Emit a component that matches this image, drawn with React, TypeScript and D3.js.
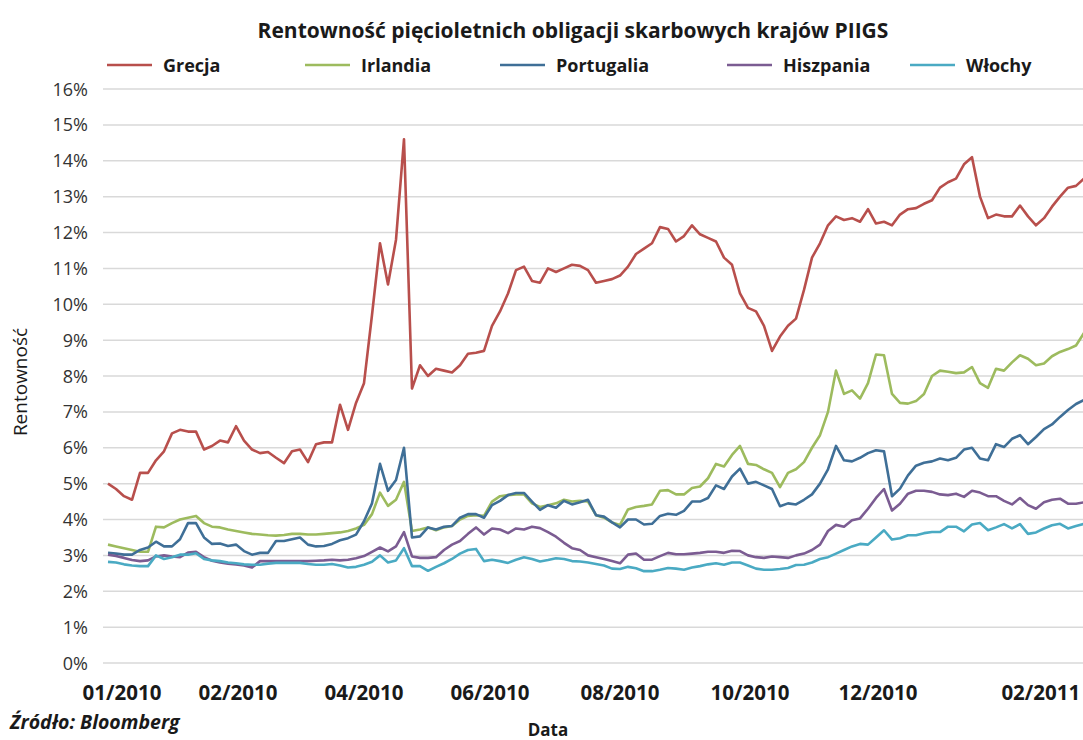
import React from 'react';
import * as d3 from 'd3';

const WIDTH = 1083;
const HEIGHT = 740;

// rentowność w %, mniej więcej co 2 sesje, od 01/2010 do 02/2011
const grecja = [
  5.0, 4.85, 4.65, 4.55, 5.3, 5.3, 5.65, 5.9, 6.4, 6.5, 6.45, 6.45, 5.95, 6.05, 6.2, 6.15, 6.6, 6.2, 5.95, 5.85,
  5.88, 5.72, 5.57, 5.9, 5.95, 5.6, 6.1, 6.15, 6.15, 7.2, 6.5, 7.25, 7.8, 9.7, 11.7, 10.55, 11.8, 14.6, 7.65, 8.3,
  8.0, 8.2, 8.15, 8.1, 8.3, 8.62, 8.65, 8.7, 9.4, 9.8, 10.3, 10.95, 11.05, 10.65, 10.6, 11.0, 10.9, 11.0, 11.1, 11.07,
  10.95, 10.6, 10.65, 10.7, 10.8, 11.05, 11.4, 11.55, 11.7, 12.15, 12.1, 11.75, 11.9, 12.2, 11.95, 11.85, 11.75, 11.3, 11.1, 10.3,
  9.9, 9.8, 9.4, 8.7, 9.1, 9.4, 9.6, 10.4, 11.3, 11.7, 12.2, 12.45, 12.35, 12.4, 12.3, 12.65, 12.25, 12.3, 12.2, 12.5,
  12.65, 12.68, 12.8, 12.9, 13.25, 13.4, 13.5, 13.9, 14.1, 13.0, 12.4, 12.5, 12.45, 12.45, 12.75, 12.45, 12.2, 12.4, 12.72, 13.0,
  13.25, 13.3, 13.5,
];
const irlandia = [
  3.3, 3.25, 3.2, 3.15, 3.1, 3.1, 3.8, 3.78, 3.9, 4.0, 4.05, 4.1, 3.9, 3.8, 3.78, 3.72, 3.68, 3.64, 3.6, 3.58,
  3.56, 3.55, 3.57, 3.6, 3.6, 3.58, 3.58, 3.6, 3.62, 3.64, 3.68, 3.75, 3.85, 4.15, 4.75, 4.38, 4.55, 5.05, 3.68, 3.72,
  3.78, 3.7, 3.78, 3.82, 4.0, 4.1, 4.12, 4.1, 4.5, 4.65, 4.68, 4.7, 4.7, 4.45, 4.35, 4.4, 4.45, 4.55, 4.5, 4.52,
  4.5, 4.12, 4.05, 3.92, 3.85, 4.28, 4.35, 4.38, 4.42, 4.8, 4.82, 4.7, 4.7, 4.88, 4.92, 5.15, 5.55, 5.48, 5.8, 6.05,
  5.55, 5.52, 5.4, 5.3, 4.9, 5.3, 5.4, 5.6, 6.0, 6.35, 7.0, 8.15, 7.5, 7.6, 7.37, 7.8, 8.6, 8.58, 7.5, 7.25,
  7.23, 7.3, 7.5, 8.0, 8.15, 8.12, 8.08, 8.1, 8.25, 7.8, 7.67, 8.2, 8.15, 8.38, 8.58, 8.48, 8.3, 8.35, 8.55, 8.67,
  8.75, 8.85, 9.2,
];
const portugalia = [
  3.07, 3.05, 3.02, 3.02, 3.15, 3.22, 3.38, 3.25, 3.25, 3.45, 3.9, 3.9, 3.5, 3.32, 3.33, 3.26, 3.3, 3.12, 3.02, 3.07,
  3.07, 3.4, 3.4, 3.45, 3.5, 3.3, 3.25, 3.26, 3.32, 3.42, 3.48, 3.58, 3.95, 4.45, 5.55, 4.8, 5.1, 6.0, 3.5, 3.53,
  3.78, 3.72, 3.8, 3.82, 4.05, 4.15, 4.15, 4.05, 4.4, 4.52, 4.68, 4.74, 4.74, 4.5, 4.27, 4.4, 4.33, 4.52, 4.42, 4.48,
  4.55, 4.12, 4.08, 3.92, 3.78, 4.0, 4.0, 3.86, 3.88, 4.1, 4.16, 4.13, 4.24, 4.5, 4.5, 4.6, 4.95, 4.85, 5.2, 5.42,
  5.0, 5.05, 4.95, 4.85, 4.37, 4.45, 4.42, 4.55, 4.7, 5.0, 5.4, 6.05, 5.65, 5.62, 5.72, 5.85, 5.93, 5.9, 4.65, 4.86,
  5.23, 5.5, 5.58, 5.62, 5.7, 5.65, 5.72, 5.95, 6.0, 5.7, 5.65, 6.1, 6.02, 6.25, 6.35, 6.1, 6.3, 6.52, 6.65, 6.86,
  7.05, 7.22, 7.33,
];
const hiszpania = [
  3.02, 2.98, 2.93, 2.87, 2.84, 2.86, 2.97, 3.0, 2.97, 2.95, 3.08, 3.1, 2.95, 2.85, 2.8, 2.77, 2.75, 2.72, 2.66, 2.84,
  2.84, 2.84, 2.84, 2.84, 2.84, 2.84, 2.85, 2.86, 2.88, 2.86, 2.88, 2.92, 2.98, 3.1, 3.22, 3.11, 3.25, 3.65, 2.97, 2.93,
  2.93, 2.95, 3.15, 3.3, 3.4, 3.6, 3.78, 3.58, 3.75, 3.72, 3.62, 3.75, 3.72, 3.8, 3.76, 3.65, 3.52, 3.35, 3.2, 3.15,
  3.0, 2.95, 2.9, 2.84, 2.78, 3.02, 3.05, 2.88, 2.88, 2.98, 3.07, 3.03, 3.03, 3.05, 3.07, 3.1, 3.1, 3.07, 3.13, 3.12,
  3.0, 2.95, 2.93, 2.97, 2.95, 2.93, 3.0, 3.05, 3.15, 3.3, 3.68, 3.85, 3.8, 3.98, 4.03, 4.3, 4.6, 4.85, 4.25, 4.44,
  4.72, 4.8, 4.8, 4.77, 4.7, 4.68, 4.72, 4.63, 4.8, 4.75, 4.65, 4.65, 4.52, 4.42, 4.6, 4.4, 4.3, 4.48, 4.55, 4.58,
  4.44, 4.44, 4.48,
];
const wlochy = [
  2.82, 2.8, 2.75, 2.72, 2.7, 2.7, 3.0, 2.9, 2.95, 3.02, 3.02, 3.06, 2.9, 2.86, 2.84, 2.8, 2.78, 2.75, 2.74, 2.74,
  2.77, 2.79, 2.79, 2.79, 2.79, 2.76, 2.74, 2.74, 2.76, 2.72, 2.66, 2.68, 2.74, 2.82, 3.0, 2.8, 2.86, 3.2, 2.7, 2.7,
  2.57, 2.68, 2.78, 2.9, 3.05, 3.15, 3.18, 2.84, 2.88, 2.84, 2.79, 2.88, 2.95, 2.9, 2.83, 2.87, 2.92, 2.9, 2.84, 2.83,
  2.8, 2.76, 2.72, 2.63, 2.62, 2.68, 2.64, 2.56, 2.56, 2.6, 2.65, 2.63, 2.6, 2.66, 2.7, 2.75, 2.78, 2.74, 2.8, 2.8,
  2.72, 2.63, 2.6, 2.6, 2.62, 2.65, 2.73, 2.74, 2.8, 2.9, 2.95, 3.05, 3.15, 3.25, 3.32, 3.3, 3.5, 3.7, 3.44, 3.48,
  3.56, 3.56, 3.62, 3.65, 3.65, 3.8, 3.8, 3.67, 3.86, 3.9, 3.7, 3.78, 3.87, 3.75, 3.87, 3.6, 3.64, 3.75, 3.84, 3.88,
  3.75, 3.82, 3.88,
];

const seriesNames = ['Grecja', 'Irlandia', 'Portugalia', 'Hiszpania', 'Włochy'];
const seriesData = [grecja, irlandia, portugalia, hiszpania, wlochy];
const seriesColors = ['#B84F4C', '#9DBB5E', '#3F6F97', '#7B5C92', '#4AAAC3'];

// etykiety osi X i numer punktu, pod którym stoją
const xLabels = ['01/2010', '02/2010', '04/2010', '06/2010', '08/2010', '10/2010', '12/2010', '02/2011'];
const xLabelAt = [1.75, 16.25, 32, 47.75, 64, 80.25, 96.25, 116.6];
const yTicks = d3.range(0, 17);

const TEXT = '#1a1a1a';
const FONT = '"Open Sans", sans-serif';

const App = () => {
  const n = grecja.length;
  const xScale = d3.scaleLinear().domain([0, n - 1]).range([108, 1084]);
  const yScale = d3.scaleLinear().domain([0, 16]).range([663, 89]);

  const line = d3
    .line<number>()
    .x((d, i) => xScale(i))
    .y((d) => yScale(d));

  const legendX = [107, 305, 500, 727, 910];

  return (
    <svg
      width={WIDTH}
      height={HEIGHT}
      viewBox={`0 0 ${WIDTH} ${HEIGHT}`}
      style={{ position: 'absolute', left: 0, top: 0, background: '#fff' }}
    >
      <rect width={WIDTH} height={HEIGHT} fill="#fff" />
      <text x={573} y={38} textAnchor="middle" fontFamily={FONT} fontWeight="bold" fontSize={21} fill={TEXT}>
        Rentowność pięcioletnich obligacji skarbowych krajów PIIGS
      </text>

      {/* legenda */}
      {seriesNames.map((name, i) => (
        <g key={name} transform={`translate(${legendX[i]}, 65)`}>
          <line x1={0} x2={45} y1={0} y2={0} stroke={seriesColors[i]} strokeWidth={2.5} />
          <text x={56} y={6.5} fontFamily={FONT} fontWeight="bold" fontSize={18} fill={TEXT}>
            {name}
          </text>
        </g>
      ))}

      {/* siatka + oś Y */}
      <g className="y-axis">
        {yTicks.map((t) => (
          <g key={t}>
            <line x1={103} x2={1083} y1={yScale(t)} y2={yScale(t)} stroke="#D9D9D9" strokeWidth={1.5} />
            <text x={88} y={yScale(t) + 6.5} textAnchor="end" fontFamily={FONT} fontSize={18} fill="#333">
              {t}%
            </text>
          </g>
        ))}
      </g>

      <text
        transform="translate(27, 382) rotate(-90)"
        textAnchor="middle"
        fontFamily={FONT}
        fontSize={19}
        fill={TEXT}
      >
        Rentowność
      </text>

      {/* oś X */}
      <g className="x-axis">
        {xLabels.map((lab, i) => (
          <text
            key={lab}
            x={xScale(xLabelAt[i])}
            y={700}
            textAnchor="middle"
            fontFamily={FONT}
            fontWeight="bold"
            fontSize={20.5}
            fill={TEXT}
          >
            {lab}
          </text>
        ))}
      </g>
      <text x={548} y={736} textAnchor="middle" fontFamily={FONT} fontWeight="bold" fontSize={17} fill={TEXT}>
        Data
      </text>
      <text x={10} y={729} fontFamily={FONT} fontWeight="bold" fontStyle="italic" fontSize={19.5} fill={TEXT}>
        Źródło: Bloomberg
      </text>

      {/* linie serii */}
      <g className="lines" fill="none" strokeWidth={2.6} strokeLinejoin="round">
        {seriesData.map((s, i) => (
          <path key={seriesNames[i]} d={line(s) || ''} stroke={seriesColors[i]} />
        ))}
      </g>
    </svg>
  );
};

export default App;
